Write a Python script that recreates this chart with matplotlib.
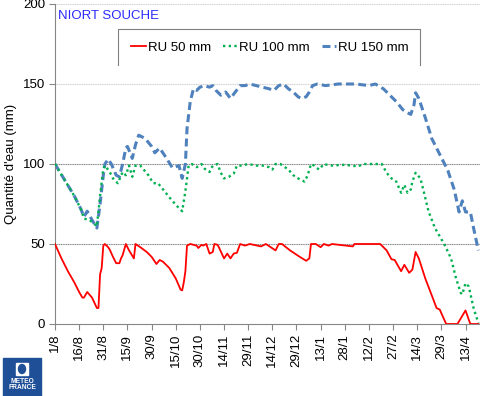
import matplotlib
matplotlib.use("Agg")
import matplotlib.pyplot as plt
import matplotlib.patches as mpatches
import pandas as pd

plt.rcParams['font.family'] = ['Liberation Sans', 'DejaVu Sans']

# days counted from 1/8 (2014-08-01)
start = pd.Timestamp('2014-08-01')

# RU 50 mm
ru50_days = [0, 4, 8, 12, 15, 17, 18, 20, 23, 26, 27, 28, 29, 30, 31, 33, 34, 36, 38, 40,
             41, 42, 44, 46, 49, 50, 53, 57, 60, 63, 65, 67, 71, 75, 78, 79, 80, 81, 82, 84,
             88, 89, 91, 92, 94, 96, 98, 99, 101, 102, 105, 107, 109, 111, 113, 115, 118, 121, 128, 131,
             137, 139, 141, 146, 149, 152, 156, 158, 159, 162, 165, 167, 170, 172, 185, 186, 202, 206, 209, 211,
             215, 217, 220, 222, 224, 226, 230, 234, 237, 239, 243, 250, 255, 258, 263]
ru50_vals = [50, 41, 33, 26, 20, 16.5, 16.5, 20, 16.5, 10, 10, 31, 35, 49, 50, 48, 46.5, 42, 38, 38,
             41, 43, 50, 46, 41, 50, 48, 45, 42, 37.5, 40, 39, 35, 28.5, 21.5, 21, 26, 33, 49, 50,
             49, 47.5, 49.5, 49, 50, 44, 45, 50, 49.5, 47.5, 41, 44, 41, 44, 44.5, 50, 49, 50, 48.5, 50,
             46, 50, 50, 46, 44, 42, 39.5, 41, 50, 50, 48, 50, 49, 50, 48.5, 50, 50, 46, 40.5, 40,
             33, 37, 32, 34, 45, 41, 28.5, 18, 10, 9, 0, 0, 8.5, 0, 0]

# RU 100 mm
ru100_days = [0, 6, 12, 16, 18, 23, 26, 28, 30, 31, 34, 36, 39, 42, 44, 46, 48, 50, 53, 58,
              61, 64, 68, 72, 76, 79, 81, 83, 85, 88, 91, 93, 96, 98, 101, 103, 105, 108, 111, 113,
              116, 120, 125, 129, 133, 135, 137, 140, 145, 148, 151, 155, 157, 159, 161, 164, 167, 171, 180, 188,
              192, 203, 206, 209, 212, 215, 217, 219, 221, 222, 224, 227, 229, 232, 236, 242, 246, 249, 252, 253,
              255, 257, 260, 263]
ru100_vals = [100, 90, 80, 72, 66, 64, 61, 80, 97, 99, 95, 91, 88, 95, 93, 99, 92, 99, 99, 93,
              88, 88, 83, 78, 73.5, 70.5, 83, 99, 100, 98, 100, 97, 95, 99, 100, 94.5, 91, 92, 94, 99,
              99, 100, 99, 99, 98, 96.5, 100, 100, 96.5, 93, 91, 89, 93, 100, 99, 96.5, 100, 99, 99.5, 98.5,
              100, 100, 94.5, 91, 89, 82, 87, 82, 84, 89, 94.5, 91, 83, 70.5, 60, 49.5, 41, 29, 19.5, 18.5,
              25.5, 23.5, 10, 0.5]

# RU 150 mm
ru150_days = [0, 6, 12, 16, 18, 20, 23, 26, 28, 30, 31, 33, 35, 38, 40, 42, 44, 45, 48, 50,
              52, 56, 60, 62, 65, 69, 73, 77, 79, 81, 82, 84, 86, 88, 90, 93, 96, 98, 100, 103,
              106, 109, 112, 115, 118, 121, 125, 129, 133, 136, 139, 142, 145, 148, 151, 153, 156, 158, 160, 163,
              168, 176, 187, 195, 199, 204, 208, 212, 216, 219, 221, 223, 224, 226, 230, 234, 240, 244, 248, 251,
              253, 255, 258, 260, 263]
ru150_vals = [100, 90, 80, 72, 67, 70.5, 65, 60, 75, 93, 100, 103, 100, 93, 92, 100, 110, 111, 103.5, 112,
              118, 116, 111, 107, 110, 104, 97.5, 99, 91, 100, 122, 139, 147, 146, 148, 149, 148, 149, 146, 143,
              145, 141, 145, 149, 149, 150, 149, 148, 147, 146, 149, 150, 147, 145, 142, 141, 142, 145, 149, 150,
              149, 150, 150, 149, 150, 147, 143, 139, 134, 132, 131, 137, 144.5, 141, 129, 116, 104, 96, 84, 70,
              77, 70, 70, 60, 46]

tick_days = list(range(0, 256, 15))
tick_labels = [f"{d.day}/{d.month}" for d in (start + pd.to_timedelta(tick_days, unit='D'))]

fig = plt.figure(figsize=(4.8, 3.96), dpi=100)
ax = fig.add_axes([55 / 480, 72 / 396, 425 / 480, 320 / 396])

# grid / reference lines
for yv, c in [(150, '#d0d0d0'), (200, '#d0d0d0'), (50, '#7f7f7f'), (100, '#7f7f7f')]:
    ax.axhline(yv, color=c, lw=0.8, ls=(0, (1, 0.6)), zorder=1)

ax.plot(ru50_days, ru50_vals, color='#ff0000', lw=1.3, label='RU 50 mm', zorder=4)
ax.plot(ru100_days, ru100_vals, color='#00b050', lw=1.7, ls=(0, (1, 1.4)),
        dash_capstyle='butt', label='RU 100 mm', zorder=3)
ax.plot(ru150_days, ru150_vals, color='#4f81bd', lw=2.2, ls=(0, (2.6, 1.4)),
        dash_capstyle='butt', label='RU 150 mm', zorder=2)

ax.set_xlim(0, 264)
ax.set_ylim(0, 200)
ax.set_yticks([0, 50, 100, 150, 200])
ax.set_xticks(tick_days)
ax.set_xticklabels(tick_labels, rotation=90)

for s in ['top', 'right']:
    ax.spines[s].set_visible(False)
for s in ['left', 'bottom']:
    ax.spines[s].set_color('#868686')
    ax.spines[s].set_linewidth(0.8)
ax.tick_params(axis='both', colors='#868686', length=4, width=0.8, labelsize=9.5,
               labelcolor='black', direction='out')
ax.tick_params(axis='y', pad=3)
ax.tick_params(axis='x', pad=3)

ax.set_ylabel("Quantité d'eau (mm)", fontsize=9.5)
ax.yaxis.set_label_coords(-38 / 425, 0.5)

ax.text(3 / 425, (324 - 16) / 320, 'NIORT SOUCHE', transform=ax.transAxes,
        color='#2b2bff', fontsize=9.5, va='center', ha='left')

# legend with open box (top, left, right)
leg = ax.legend(loc='center', bbox_to_anchor=(0.506, 0.8625), ncol=3, frameon=False,
                fontsize=9.5, handlelength=1.1, handletextpad=0.15, columnspacing=0.9)
bx0, bx1, by0, by1 = 63 / 425, 365 / 425, 259 / 320, 295 / 320
ax.plot([bx0, bx0, bx1, bx1], [by0, by1, by1, by0], transform=ax.transAxes,
        color='#808080', lw=0.8, clip_on=False, zorder=5)

# logo
fig.patches.append(mpatches.Rectangle((3 / 480, 0), 38 / 480, 38 / 396,
                                      transform=fig.transFigure, color='#1f4f96'))
fig.patches.append(mpatches.Rectangle((16 / 480, 21 / 396), 12 / 480, 12 / 396,
                                      transform=fig.transFigure, color='white'))
fig.patches.append(mpatches.Ellipse((22 / 480, 27 / 396), 7 / 480, 9 / 396,
                                    transform=fig.transFigure, color='#1f4f96'))
fig.text(22 / 480, 14.5 / 396, 'METEO', color='white', fontsize=4.8, weight='bold',
         ha='center', va='center')
fig.text(22 / 480, 8.5 / 396, 'FRANCE', color='white', fontsize=4.8, weight='bold',
         ha='center', va='center')

fig.savefig('out.png', dpi=100)
